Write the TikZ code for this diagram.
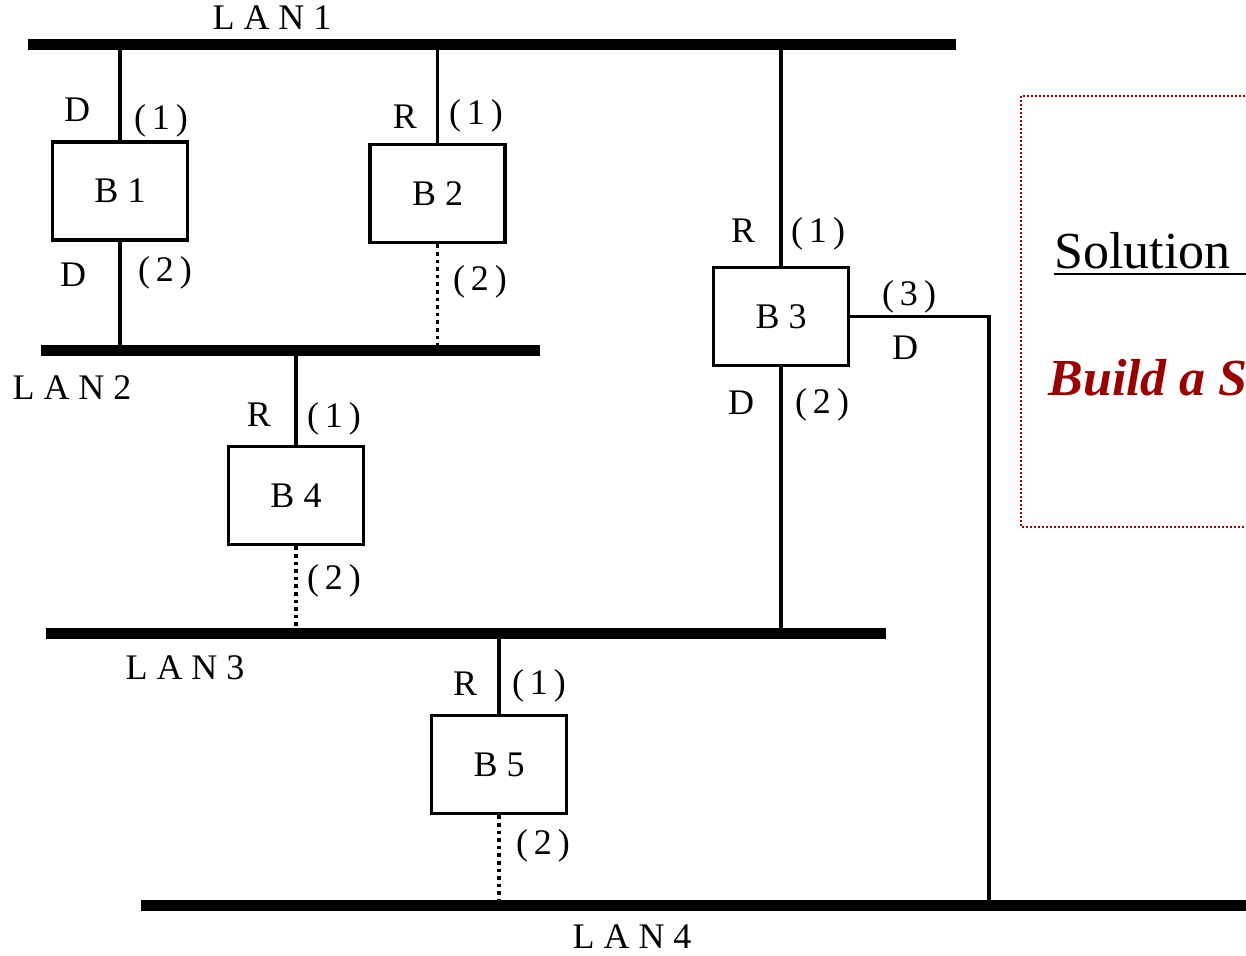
\documentclass[tikz,border=0pt]{standalone}
\usepackage{fontspec}
\setmainfont{Liberation Serif}
\usetikzlibrary{positioning}
\definecolor{darkred}{RGB}{153,0,0}

\tikzset{
  bridge/.style={draw,line width=1.8pt,minimum width=67.5pt,minimum height=49pt,inner sep=0pt,font=\fontsize{18}{20}\selectfont},
  lan/.style={line width=5.5pt},
  link/.style={line width=1.8pt},
  blocked/.style={line width=1.8pt,dotted},
  lbl/.style={font=\fontsize{18}{20}\selectfont,inner sep=0pt},
}

\begin{document}
\begin{tikzpicture}[x=0.5pt,y=-0.5pt]
  \useasboundingbox (0,0) rectangle (1246,955);
  \clip (0,0) rectangle (1246,955);
  % LANs
  \coordinate (lan1w) at (28,44);   \coordinate (lan1e) at (956,44);
  \coordinate (lan2w) at (41,350);  \coordinate (lan2e) at (540,350);
  \coordinate (lan3w) at (46,633);  \coordinate (lan3e) at (886,633);
  \coordinate (lan4w) at (141,905); \coordinate (lan4e) at (1260,905);
  \coordinate (p3) at (989,905);
  \draw[lan] (lan1w) -- (lan1e);
  \draw[lan] (lan2w) -- (lan2e);
  \draw[lan] (lan3w) -- (lan3e);
  \draw[lan] (lan4w) -- (lan4e);
  \node[lbl] (l1) at (272,18) {L A N 1};
  \node[lbl] (l2) at (72,388) {L A N 2};
  \node[lbl] (l3) at (185,668) {L A N 3};
  \node[lbl] (l4) at (632,937) {L A N 4};
  % bridges
  \node[bridge] (b1) at (120,191) {B 1};
  \node[bridge] (b2) at (437.5,193.5) {B 2};
  \node[bridge] (b3) at (781,316.5) {B 3};
  \node[bridge] (b4) at (296,495.5) {B 4};
  \node[bridge] (b5) at (499,764.5) {B 5};
  % ports
  \draw[link] (b1.north) -- (b1.north |- lan1w);
  \draw[link] (b1.south) -- (b1.south |- lan2w);
  \draw[link] (b2.north) -- (b2.north |- lan1w);
  \draw[blocked] (b2.south) -- (b2.south |- lan2w);
  \draw[link] (b3.north) -- (b3.north |- lan1w);
  \draw[link] (b3.south) -- (b3.south |- lan3w);
  \draw[link] (b3.east) -| (p3);
  \draw[link] (b4.north) -- (b4.north |- lan2w);
  \draw[blocked] (b4.south) -- (b4.south |- lan3w);
  \draw[link] (b5.north) -- (b5.north |- lan3w);
  \draw[blocked] (b5.south) -- (b5.south |- lan4w);
  % port labels
  \node[lbl] (b1d1) at (77,110) {D};
  \node[lbl] (b1p1) at (161,121) {(\,1\,)};
  \node[lbl] (b1d2) at (73,275) {D};
  \node[lbl] (b1p2) at (165,273) {(\,2\,)};
  \node[lbl] (b2r1) at (405,117) {R};
  \node[lbl] (b2p1) at (476,116) {(\,1\,)};
  \node[lbl] (b2p2) at (480,282) {(\,2\,)};
  \node[lbl] (b3r1) at (743,231) {R};
  \node[lbl] (b3p1) at (818,234) {(\,1\,)};
  \node[lbl] (b3p3) at (909,297) {(\,3\,)};
  \node[lbl] (b3d3) at (905,348) {D};
  \node[lbl] (b3d2) at (741,403) {D};
  \node[lbl] (b3p2) at (822,405) {(\,2\,)};
  \node[lbl] (b4r1) at (259,415) {R};
  \node[lbl] (b4p1) at (334,419) {(\,1\,)};
  \node[lbl] (b4p2) at (334,581) {(\,2\,)};
  \node[lbl] (b5r1) at (465,684) {R};
  \node[lbl] (b5p1) at (539,686) {(\,1\,)};
  \node[lbl] (b5p2) at (543,846) {(\,2\,)};
  % solution panel
  \draw[darkred,densely dotted,line width=1pt] (1021,96) rectangle (1300,527);
  \node[inner sep=0pt,anchor=base west,font=\fontsize{26}{28}\selectfont] (sol) at (1054,268) {Solution};
  \draw[line width=1.2pt] (1054,274) -- (1260,274);
  \node[inner sep=0pt,anchor=base west,text=darkred,font=\fontsize{26}{28}\selectfont\bfseries\itshape] (build) at (1048,395) {Build a S};
\end{tikzpicture}
\end{document}
